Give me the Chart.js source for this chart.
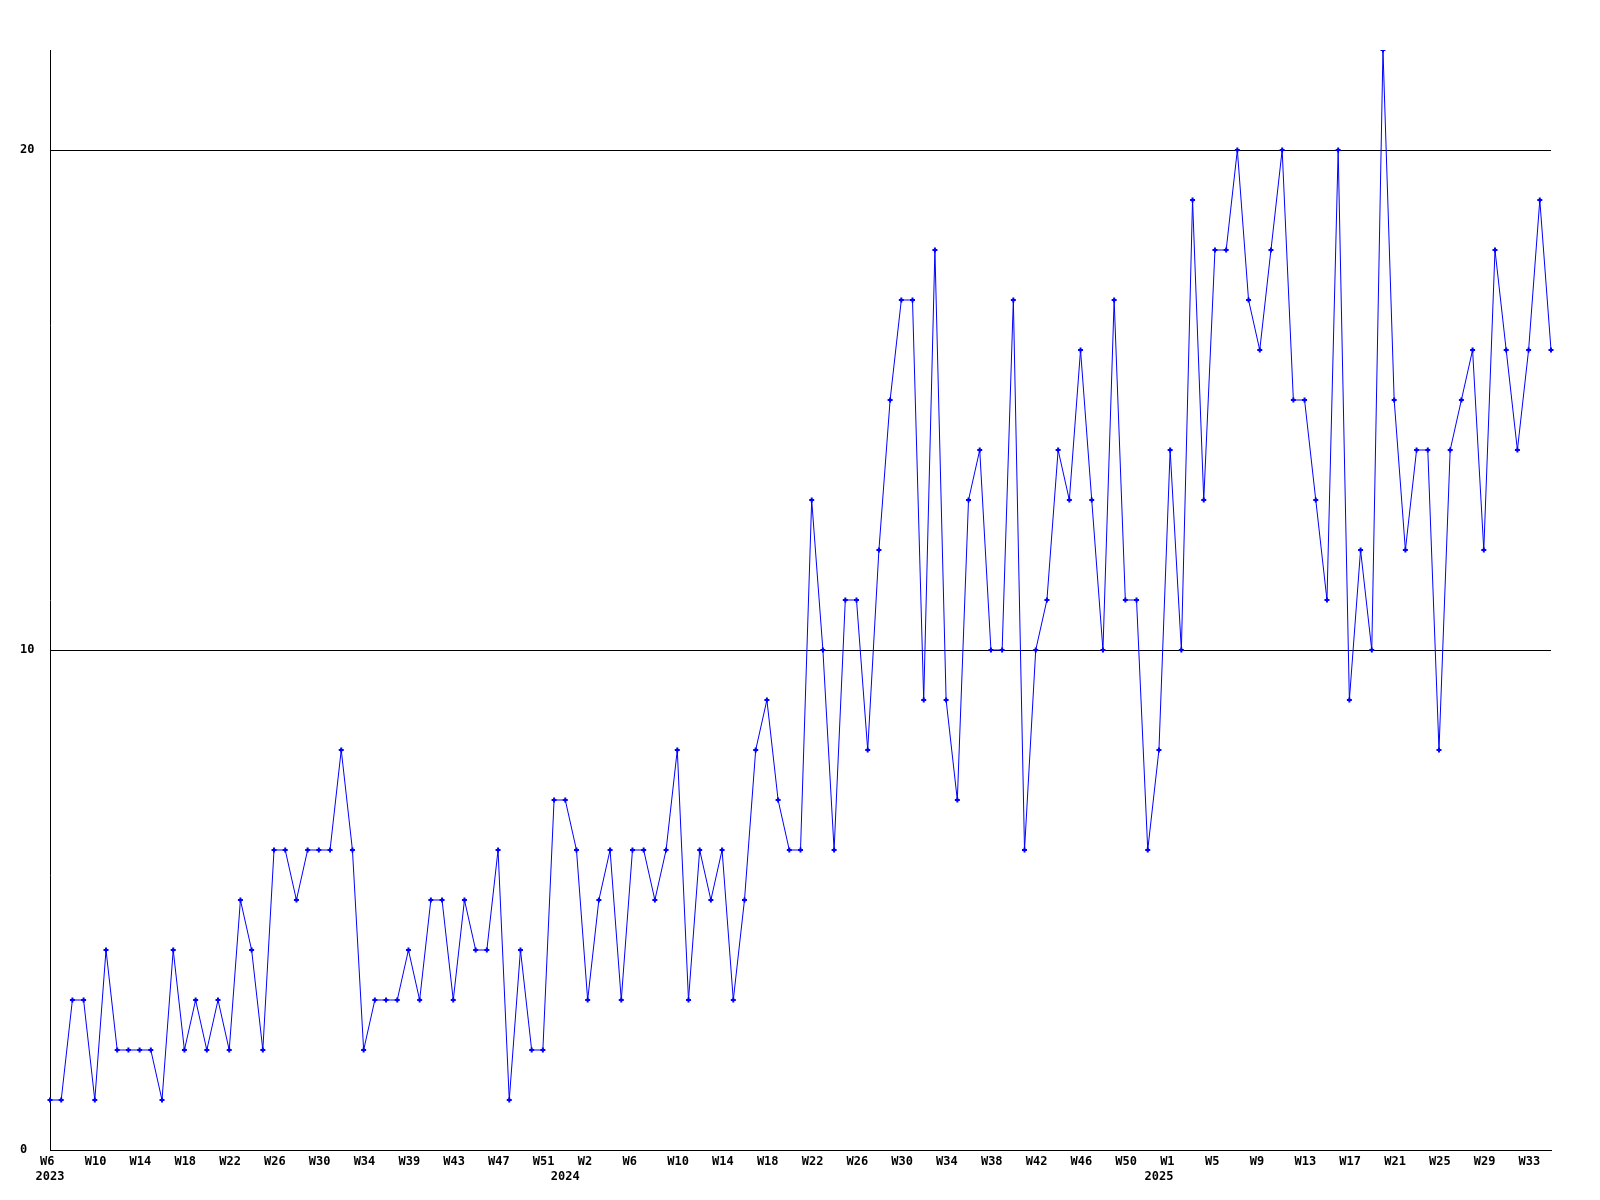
<!DOCTYPE html>
<html>
<head>
<meta charset="utf-8">
<script src="https://cdn.jsdelivr.net/npm/chart.js@4/dist/chart.umd.min.js"></script>
<style>
  html, body { margin: 0; padding: 0; background: #ffffff; }
  #wrap { width: 1600px; height: 1200px; position: relative; }
</style>
</head>
<body>
<div id="wrap"><canvas id="c"></canvas></div>
<script>
// Week categories (year-week)
const categories = [
  "2023-W6","2023-W7","2023-W8","2023-W9","2023-W10","2023-W11","2023-W12","2023-W13","2023-W14","2023-W15",
  "2023-W16","2023-W17","2023-W18","2023-W19","2023-W20","2023-W21","2023-W22","2023-W23","2023-W24","2023-W25",
  "2023-W26","2023-W27","2023-W28","2023-W29","2023-W30","2023-W31","2023-W32","2023-W33","2023-W34","2023-W35",
  "2023-W37","2023-W38","2023-W39","2023-W40","2023-W41","2023-W42","2023-W43","2023-W44","2023-W45","2023-W46",
  "2023-W47","2023-W48","2023-W49","2023-W50","2023-W51","2023-W52",
  "2024-W0","2024-W1","2024-W2","2024-W3","2024-W4","2024-W5","2024-W6","2024-W7","2024-W8","2024-W9","2024-W10",
  "2024-W11","2024-W12","2024-W13","2024-W14","2024-W15","2024-W16","2024-W17","2024-W18","2024-W19","2024-W20",
  "2024-W21","2024-W22","2024-W23","2024-W24","2024-W25","2024-W26","2024-W27","2024-W28","2024-W29","2024-W30",
  "2024-W31","2024-W32","2024-W33","2024-W34","2024-W35","2024-W36","2024-W37","2024-W38","2024-W39","2024-W40",
  "2024-W41","2024-W42","2024-W43","2024-W44","2024-W45","2024-W46","2024-W47","2024-W48","2024-W49","2024-W50",
  "2024-W51","2024-W52",
  "2025-W0","2025-W1","2025-W2","2025-W3","2025-W4","2025-W5","2025-W6","2025-W7","2025-W8","2025-W9","2025-W10",
  "2025-W11","2025-W12","2025-W13","2025-W14","2025-W15","2025-W16","2025-W17","2025-W18","2025-W19","2025-W20",
  "2025-W21","2025-W22","2025-W23","2025-W24","2025-W25","2025-W26","2025-W27","2025-W28","2025-W29","2025-W30",
  "2025-W31","2025-W32","2025-W33","2025-W34","2025-W35"
];

// Weekly counts
const values = [
  1,1,3,3,1,4,2,2,2,2,
  1,4,2,3,2,3,2,5,4,2,
  6,6,5,6,6,6,8,6,2,3,
  3,3,4,3,5,5,3,5,4,4,
  6,1,4,2,2,7,7,6,3,5,
  6,3,6,6,5,6,8,3,6,5,
  6,3,5,8,9,7,6,6,13,10,
  6,11,11,8,12,15,17,17,9,18,
  9,7,13,14,10,10,17,6,10,11,
  14,13,16,13,10,17,11,11,6,8,
  14,10,19,13,18,18,20,17,16,18,
  20,15,15,13,11,20,9,12,10,22,
  15,12,14,14,8,14,15,16,12,18,
  16,14,16,19,16
];

// Y axis tick values
const yTicks = [0, 10, 20];
const yMax = 22;
const labelEvery = 4;

const font = { family: "'DejaVu Sans Mono', 'Liberation Mono', monospace", size: 12, weight: 'bold' };

new Chart(document.getElementById('c'), {
  type: 'line',
  data: {
    labels: categories,
    datasets: [{
      xAxisID: 'x',
      yAxisID: 'y',
      data: values,
      borderColor: '#0000ff',
      backgroundColor: '#0000ff',
      borderWidth: 1,
      tension: 0,
      fill: false,
      pointStyle: 'cross',
      pointRadius: 2.5,
      pointBorderWidth: 2,
      pointBorderColor: '#0000ff',
      pointHoverRadius: 2.5
    }]
  },
  options: {
    responsive: true,
    maintainAspectRatio: false,
    animation: false,
    layout: { padding: { left: 20, right: 49, top: 50, bottom: 0 } },
    plugins: { legend: { display: false }, tooltip: { enabled: false } },
    scales: {
      x: {
        type: 'category',
        position: 'bottom',
        weight: 0,
        offset: false,
        grid: { display: false, drawTicks: false },
        border: { display: true, color: '#000000', width: 1 },
        afterFit: (s) => { s.height = 20; },
        ticks: {
          autoSkip: false,
          maxRotation: 0,
          minRotation: 0,
          align: 'start',
          labelOffset: -10,
          padding: 5,
          color: '#000000',
          font: font,
          callback: function (v, i) {
            if (i % labelEvery !== 0) return '';
            return categories[i].split('-')[1];
          }
        }
      },
      x2: {
        type: 'category',
        position: 'bottom',
        weight: 1,
        offset: false,
        grid: { display: false, drawTicks: false },
        border: { display: false },
        afterFit: (s) => { s.height = 30; },
        ticks: {
          autoSkip: false,
          maxRotation: 0,
          minRotation: 0,
          align: 'center',
          padding: 0,
          color: '#000000',
          font: font,
          callback: function (v, i) {
            const yr = categories[i].split('-')[0];
            if (i === 0 || categories[i - 1].split('-')[0] !== yr) return yr;
            return '';
          }
        }
      },
      y: {
        min: 0,
        max: yMax,
        grid: { display: true, color: '#000000', lineWidth: 1, drawTicks: false },
        border: { display: true, color: '#000000', width: 1 },
        afterFit: (s) => { s.width = 30; },
        afterBuildTicks: (s) => { s.ticks = yTicks.map(v => ({ value: v })); },
        ticks: {
          padding: 17,
          crossAlign: 'far',
          color: '#000000',
          font: font,
          includeBounds: false
        }
      }
    }
  }
});
</script>
</body>
</html>
